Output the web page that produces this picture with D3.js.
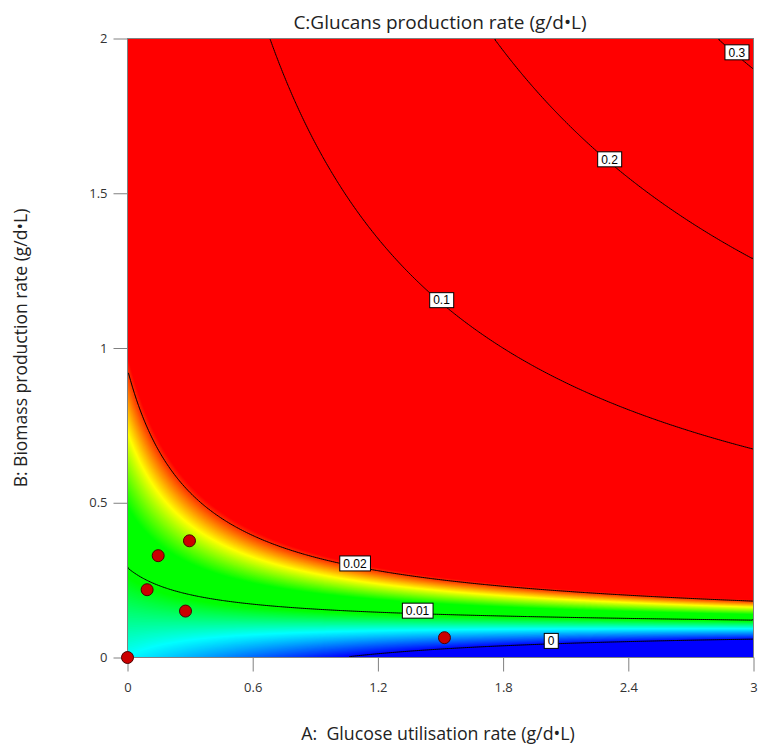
<!DOCTYPE html>
<html>
<head>
<meta charset="utf-8">
<script src="https://cdn.jsdelivr.net/npm/d3@7"></script>
<style>
  body { margin: 0; background: #fff; }
  text { font-family: "Open Sans", sans-serif; }
</style>
</head>
<body>
<div id="chart"></div>
<script>
// fitted model for C in actual factors: Intercept, A, B, AB, A^2
const modelTerms = ["Intercept", "A", "B", "AB", "A^2"];
const modelCoefs = [0.00548, -0.0055, 0.0156, 0.0491, 0.00015];

// design runs (A, B)
const runA = [0, 0.094, 0.147, 0.297, 0.278, 1.519];
const runB = [0, 0.219, 0.329, 0.377, 0.150, 0.064];

const contourLevels = [0, 0.01, 0.02, 0.1, 0.2, 0.3];
const labelAt = [2.03, 1.39, 1.09, 1.505, 2.31, 2.92];   // A where each level is labelled

const xTicks = [0, 0.6, 1.2, 1.8, 2.4, 3];
const yTicks = [0, 0.5, 1, 1.5, 2];

const width = 758, height = 749;

const svg = d3.select("#chart").append("svg")
    .attr("width", width)
    .attr("height", height);

const x = d3.scaleLinear().domain([0, 3]).range([127.5, 753.5]);
const y = d3.scaleLinear().domain([0, 2]).range([657.5, 38.5]);

function response(a, b) {
  let c = modelCoefs;
  return c[0] + c[1] * a + c[2] * b + c[3] * a * b + c[4] * a * a;
}

// B on a contour for a given A (bisection)
function solveB(level, a) {
  let lo = 0, hi = 2;
  for (let k = 0; k < 50; k++) {
    let mid = (lo + hi) / 2;
    if (response(a, mid) < level) lo = mid; else hi = mid;
  }
  return (lo + hi) / 2;
}

// grid of the surface
const nx = 313, ny = 310;
const grid = new Float64Array(nx * ny);
for (let j = 0; j < ny; j++) {
  let b = 2 - (j + 0.5) / ny * 2;
  for (let i = 0; i < nx; i++) {
    let a = (i + 0.5) / nx * 3;
    grid[j * nx + i] = response(a, b);
  }
}

const gx = d3.scaleLinear().domain([0, nx]).range([0, 3]);
const gy = d3.scaleLinear().domain([0, ny]).range([2, 0]);
const path = d3.geoPath(d3.geoTransform({
  point: function(px, py) { this.stream.point(x(gx(px)), y(gy(py))); }
}));

const color = d3.scaleLinear()
    .domain([0, 0.0055, 0.0095, 0.013, 0.0168, 0.0207])
    .range(["#0000ff", "#00ffff", "#00ff00", "#00ff00", "#ffff00", "#ff0000"])
    .clamp(true);

const plot = svg.append("g").attr("class", "plot");

plot.append("rect")
    .attr("x", x(0)).attr("y", y(2))
    .attr("width", x(3) - x(0)).attr("height", y(0) - y(2))
    .attr("fill", color(0));

const fillLevels = d3.range(0.0001, 0.0208, 0.0001);
const bands = d3.contours().size([nx, ny]).thresholds(fillLevels)(grid);

plot.selectAll(".band")
    .data(bands)
    .join("path")
    .attr("class", "band")
    .attr("d", path)
    .attr("fill", d => color(d.value));

const lines = d3.contours().size([nx, ny]).thresholds(contourLevels)(grid);

plot.selectAll(".iso")
    .data(lines)
    .join("path")
    .attr("class", "iso")
    .attr("d", path)
    .attr("fill", "none")
    .attr("stroke", "#000")
    .attr("stroke-width", 1);

// frame
svg.append("rect")
    .attr("x", x(0)).attr("y", y(2))
    .attr("width", x(3) - x(0)).attr("height", y(0) - y(2))
    .attr("fill", "none")
    .attr("stroke", "#808080")
    .attr("stroke-width", 1);

// contour labels
const labels = svg.selectAll(".clabel")
    .data(contourLevels)
    .join("g")
    .attr("class", "clabel")
    .attr("transform", (d, i) => "translate(" + x(labelAt[i]) + "," + (y(solveB(d, labelAt[i])) - 3) + ")");

labels.append("text")
    .attr("text-anchor", "middle")
    .attr("dy", "0.35em")
    .style("font-family", "'Liberation Sans', sans-serif")
    .style("font-size", "12px")
    .attr("fill", "#000")
    .text(d => String(d));

labels.each(function() {
  let g = d3.select(this);
  let bb = g.select("text").node().getBBox();
  g.insert("rect", "text")
      .attr("x", bb.x - 3.5).attr("y", -7.5)
      .attr("width", bb.width + 7).attr("height", 15)
      .attr("fill", "#fff")
      .attr("stroke", "#000")
      .attr("stroke-width", 1);
});

// axes
const xAxis = d3.axisBottom(x).tickValues(xTicks).tickSize(14).tickPadding(11)
    .tickFormat(d => String(d));
const yAxis = d3.axisLeft(y).tickValues(yTicks).tickSize(14).tickPadding(6)
    .tickFormat(d => String(d));

const xg = svg.append("g").attr("transform", "translate(0," + y(0) + ")").call(xAxis);
const yg = svg.append("g").attr("transform", "translate(" + x(0) + ",0)").call(yAxis);

[xg, yg].forEach(function(g) {
  g.select(".domain").remove();
  g.selectAll(".tick line").attr("stroke", "#808080");
  g.selectAll(".tick text")
      .attr("fill", "#333")
      .style("font-family", "'Open Sans', sans-serif")
      .style("font-size", "13px");
});

// design points
svg.selectAll(".run")
    .data(runA)
    .join("circle")
    .attr("class", "run")
    .attr("cx", d => x(d))
    .attr("cy", (d, i) => y(runB[i]))
    .attr("r", 6)
    .attr("fill", "#cc0000")
    .attr("stroke", "#4a0000")
    .attr("stroke-width", 1);

// titles
svg.append("text")
    .attr("x", 440).attr("y", 29)
    .attr("text-anchor", "middle")
    .attr("fill", "#222")
    .style("font-size", "19px")
    .text("C:Glucans production rate (g/d\u2022L)");

svg.append("text")
    .attr("x", 438).attr("y", 740)
    .attr("text-anchor", "middle")
    .attr("fill", "#222")
    .style("font-size", "17.8px")
    .style("white-space", "pre")
    .text("A:  Glucose utilisation rate (g/d\u2022L)");

svg.append("text")
    .attr("transform", "translate(27," + y(1) + ") rotate(-90)")
    .attr("text-anchor", "middle")
    .attr("fill", "#222")
    .style("font-size", "17.5px")
    .text("B: Biomass production rate (g/d\u2022L)");
</script>
</body>
</html>
